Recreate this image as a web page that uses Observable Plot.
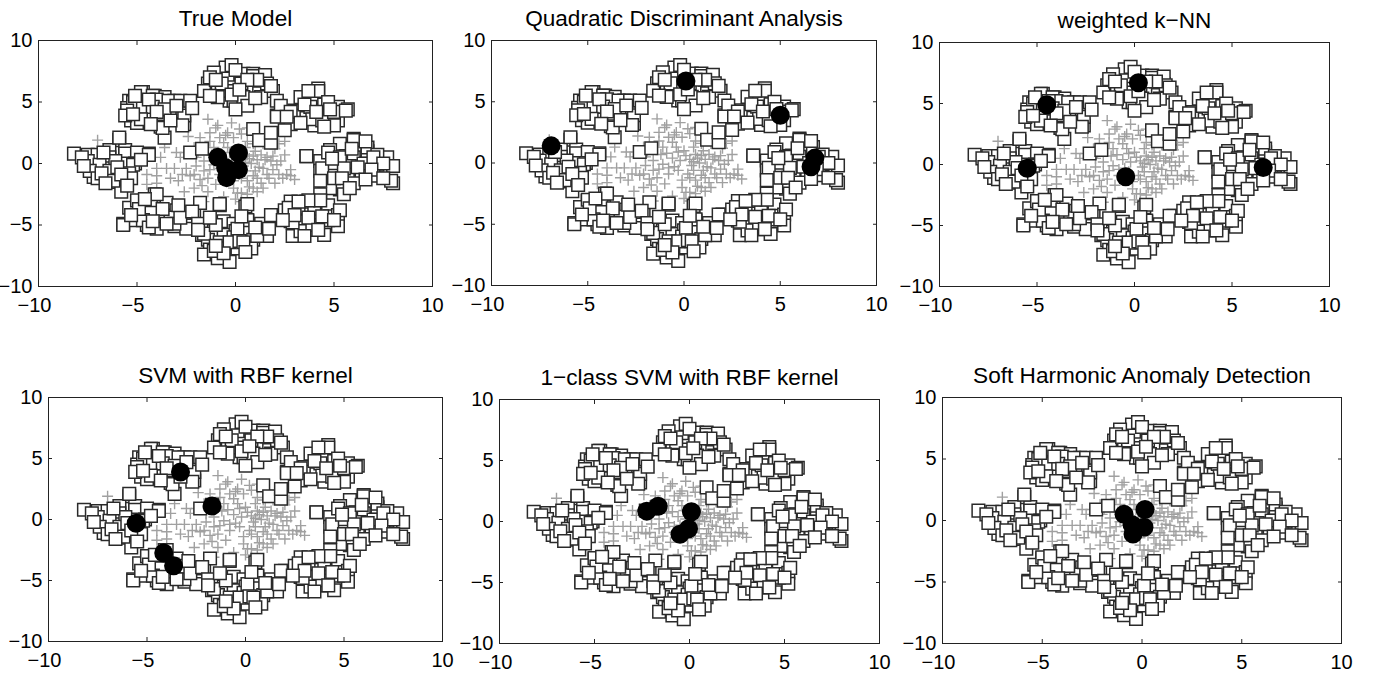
<!DOCTYPE html>
<html><head><meta charset="utf-8">
<script src="https://cdn.jsdelivr.net/npm/d3@7"></script>
<script src="https://cdn.jsdelivr.net/npm/@observablehq/plot@0.6"></script>
<style>
body{margin:0;background:#fff;}
#wrap{position:relative;width:1373px;height:677px;overflow:hidden;background:#fff;}
.panel{position:absolute;}
.panel svg{overflow:visible;}
</style>
</head><body><div id="wrap"></div>
<script>
// ---- data ----
const panelTitles = ["True Model","Quadratic Discriminant Analysis","weighted k\u2212NN",
  "SVM with RBF kernel","1\u2212class SVM with RBF kernel","Soft Harmonic Anomaly Detection"];
const tickValues = [-10,-5,0,5,10];
const innerTicks = [-5,0,5];

const squaresTop = [[-0.5,7.8],[-1.1,7.4],[-0.4,6.9],[0.3,7.1],[-1.4,6.5],[-1.1,5.9],[-0.6,5.9],[-0.1,6.2],[0.6,6.2],[0.3,5.3],[-0.3,5.1],[0.4,7.3],[0.9,7.3],[1.5,6.6],[0.8,5.9],[1.4,6.3],[1.2,5.7],[1.9,5.9],[0.9,7.1],[1.5,7.2],[-0.9,6.1],[-0.3,5.9],[0.3,6.5],[1.6,6.5],[-1.6,5.9],[-0.9,5.4],[-0.1,5.1],[0.4,5.4],[1.3,5.4],[0.6,4.7],[0.0,4.4],[2.1,5.1],[-0.2,8.0],[0.0,7.6],[-1.3,7.0],[1.1,6.8],[-0.7,6.5],[-1.0,6.8],[0.6,6.8],[-0.2,5.6],[1.0,5.3],[-1.3,5.5],[0.2,6.0],[1.8,6.3]];
const squaresTopLeft = [[-4.7,5.8],[-4.1,5.5],[-3.6,5.4],[-3.1,5.1],[-2.4,5.0],[-5.4,5.1],[-5.0,4.9],[-4.4,4.7],[-3.8,4.6],[-3.2,4.3],[-2.7,4.2],[-5.5,4.5],[-4.9,4.2],[-4.7,3.4],[-3.7,3.9],[-3.8,3.0],[-2.6,3.2],[-3.6,2.1],[-5.3,3.5],[-5.9,1.9],[-4.3,3.9],[-5.0,3.3],[-4.8,5.8],[-4.2,5.5],[-5.2,5.0],[-4.0,5.2],[-3.4,5.1],[-2.8,5.1],[-2.3,5.1],[-5.5,4.3],[-4.7,4.6],[-4.2,4.6],[-3.6,4.4],[-2.6,3.9],[-5.6,3.9],[-4.8,3.6],[-3.7,2.9],[-2.7,3.1],[-4.4,5.2],[-3.0,4.7],[-4.0,4.2],[-5.2,4.0],[-3.3,3.5],[-4.3,3.2],[-2.2,4.5],[-5.1,5.5]];
const squaresLeft = [[-8.2,0.8],[-7.5,0.7],[-6.4,1.1],[-5.6,1.1],[-5.2,0.2],[-4.4,0.8],[-6.9,0.2],[-6.4,0.5],[-5.6,0.8],[-5.0,0.9],[-7.0,-0.3],[-6.4,-0.4],[-5.5,0.0],[-5.1,0.0],[-7.2,-1.1],[-6.3,-1.5],[-5.5,-1.2],[-5.8,-2.3],[-5.9,2.1],[-7.0,0.7],[-7.5,0.2],[-6.9,-0.1],[-6.1,0.2],[-5.2,-0.1],[-7.4,-0.6],[-6.4,-0.6],[-5.4,-0.8],[-7.0,-1.2],[-6.2,-1.4],[-5.3,-1.2],[-7.8,0.5],[-4.4,0.7],[-2.3,0.9],[-1.7,1.2],[-6.7,0.9],[-6.0,-0.3],[-6.8,-0.8],[-5.8,-0.9],[-6.6,-1.6],[-5.5,-1.8],[-7.7,-0.2],[-4.8,0.3]];
const squaresTopRight = [[4.2,6.1],[3.3,5.4],[3.9,5.4],[4.5,4.8],[5.2,4.6],[5.7,4.4],[3.0,4.3],[2.1,3.9],[3.1,3.9],[3.6,3.7],[4.6,3.7],[5.2,3.5],[4.0,3.1],[5.0,3.1],[2.8,3.2],[2.3,4.7],[2.8,4.2],[4.2,5.9],[4.7,5.0],[3.8,4.6],[3.9,3.6],[4.4,3.5],[5.0,4.2],[5.6,4.3],[0.9,2.8],[1.2,1.9],[1.8,1.7],[2.5,2.7],[1.8,2.5],[2.1,3.8],[3.5,4.8],[4.1,4.2],[3.3,3.3],[4.8,4.4],[2.6,3.8],[4.5,3.0],[3.7,5.9]];
const squaresRight = [[6.0,2.0],[5.3,1.6],[6.3,1.1],[6.7,1.0],[5.6,0.6],[6.0,0.5],[7.1,0.5],[7.7,0.5],[3.6,0.6],[4.3,0.2],[5.0,-0.2],[5.8,-0.2],[6.4,-0.5],[7.2,-0.1],[8.0,-0.2],[4.3,-0.6],[5.0,-1.0],[5.7,-0.9],[6.4,-0.9],[7.0,-1.0],[4.5,-1.4],[5.2,-1.6],[6.0,-1.6],[8.0,-1.6],[5.3,-2.1],[4.8,-2.0],[5.5,-2.5],[4.8,1.1],[6.7,1.3],[7.2,0.7],[6.5,0.0],[4.7,0.9],[5.3,0.5],[7.0,0.5],[7.9,-1.4],[4.4,-0.4],[5.0,-1.2],[5.5,-0.4],[4.3,-1.4],[6.0,1.9],[6.6,1.8],[5.9,1.2],[7.5,0.0],[6.9,-0.5],[6.2,-0.3],[5.4,-1.2],[5.8,-2.0],[7.5,-1.2],[4.9,0.4],[6.6,-1.3]];
const squaresBottomLeft = [[-4.1,-2.5],[-5.0,-3.1],[-4.3,-3.2],[-3.5,-3.2],[-3.0,-3.8],[-5.4,-3.6],[-4.8,-4.2],[-3.8,-4.4],[-4.4,-4.2],[-3.3,-4.4],[-2.5,-4.7],[-2.1,-4.0],[-5.7,-4.9],[-5.1,-4.6],[-4.5,-5.0],[-4.0,-5.3],[-3.1,-5.1],[-2.5,-5.3],[-1.8,-3.2],[-4.0,-2.5],[-4.3,-4.0],[-3.1,-4.9],[-5.7,-5.0],[-4.7,-4.6],[-2.6,-4.0],[-4.4,-5.2],[-5.0,-3.0],[-3.7,-3.7],[-4.9,-3.7],[-3.5,-4.9],[-2.8,-4.4],[-5.3,-4.2],[-4.6,-2.9],[-2.9,-3.4],[-4.2,-4.7]];
const squaresBottom = [[-0.8,-3.4],[0.5,-3.5],[-0.6,-4.7],[-0.1,-4.9],[0.6,-4.7],[1.3,-4.9],[-1.7,-5.8],[-1.1,-5.5],[-0.6,-5.8],[0.0,-5.5],[0.7,-5.5],[1.4,-5.8],[-1.4,-6.2],[-0.8,-6.4],[-0.1,-6.4],[0.9,-6.2],[1.6,-5.9],[-1.3,-7.0],[-0.6,-6.9],[0.1,-6.9],[0.8,-6.9],[-0.9,-7.7],[-0.3,-8.0],[-1.6,-7.4],[2.0,-4.2],[-2.2,-3.9],[-1.6,-5.7],[-1.9,-4.9],[-0.1,-6.0],[-0.3,-6.4],[-1.1,-7.1],[-0.6,-7.3],[0.6,-4.6],[0.1,-5.3],[1.1,-5.9],[0.2,-6.3],[-0.8,-3.3],[0.6,-3.3],[-1.0,-5.0],[0.3,-4.3],[1.0,-5.2],[-1.9,-5.4],[0.4,-6.4],[-1.0,-6.7],[0.5,-7.2],[-1.3,-4.4],[1.7,-5.3]];
const squaresBottomRight = [[2.8,-3.1],[3.6,-3.1],[4.3,-2.5],[4.7,-3.4],[2.5,-3.8],[3.2,-3.6],[4.0,-4.0],[4.8,-4.3],[5.2,-4.2],[2.8,-4.7],[3.4,-4.7],[4.1,-4.7],[4.7,-4.9],[5.2,-5.1],[2.9,-5.9],[3.9,-5.4],[4.5,-5.8],[3.3,-5.5],[1.8,-4.2],[4.3,-3.0],[3.7,-3.0],[2.7,-3.6],[2.9,-4.8],[3.9,-5.0],[4.7,-4.6],[5.3,-3.8],[3.6,0.6],[3.0,-4.2],[3.7,-4.4],[4.4,-4.3],[2.4,-4.6],[3.5,-5.9],[4.2,-5.4],[5.0,-4.6],[3.2,-3.1]];
const pluses = [[-1.4,3.6],[-0.9,3.1],[-0.4,2.5],[-1.8,2.1],[-1.3,1.8],[-0.8,2.1],[-0.1,2.1],[0.3,2.4],[0.6,1.8],[1.1,2.4],[1.8,2.5],[2.5,1.8],[-2.1,1.3],[-2.5,0.9],[-2.8,0.5],[-2.5,-0.4],[-2.1,-0.9],[-1.6,-0.6],[-1.1,-0.1],[-0.8,-0.9],[-0.1,-1.4],[0.6,-1.4],[1.1,-1.2],[1.4,-0.4],[1.8,0.2],[2.1,-0.1],[2.6,-0.9],[2.0,-1.6],[2.5,0.7],[0.9,0.6],[1.3,0.7],[1.6,0.5],[0.6,0.7],[-1.6,0.2],[-4.5,-1.7],[-4.0,-1.6],[-2.6,-2.3],[-2.1,-2.0],[-1.4,-2.3],[-1.0,-1.7],[-0.1,-2.0],[0.3,-2.4],[0.6,-2.5],[0.9,-2.0],[0.3,-3.1],[-1.6,-3.1],[-2.7,-0.9],[-3.1,-0.4],[-3.5,-0.4],[-4.0,-0.4],[-3.6,1.3],[-4.5,-0.9],[-7.0,1.9],[-3.8,0.5],[-2.0,0.5],[-1.1,1.3],[-0.4,1.3],[1.4,-2.0],[1.6,-0.9],[2.2,-0.9],[3.0,-1.3],[-1.3,2.5],[0.2,2.8],[0.9,1.6],[0.3,0.3],[0.8,0.0],[1.2,-0.3],[0.5,-0.6],[-0.3,0.9],[1.0,1.0],[0.2,-0.9],[-1.3,-0.5],[-2.0,-0.2],[1.9,-0.5],[2.3,0.2],[-0.6,-2.7],[0.0,-2.9],[1.1,-2.3],[-1.8,-1.3],[2.8,-0.5],[-2.4,2.2],[-0.2,3.3],[-1.0,2.9],[0.6,2.9],[1.4,1.6],[2.0,1.2],[-0.5,-0.3],[0.7,0.4],[1.5,0.3],[-3.0,0.9],[-4.0,-1.0],[-2.9,-1.4],[0.0,1.0],[-0.6,0.4],[0.4,-0.2],[1.0,-0.6],[-1.2,0.7],[-0.3,-0.6],[0.9,-1.0],[2.4,-1.2],[-1.4,-1.2],[-0.6,1.7],[0.5,1.3],[1.7,-1.2],[-5.6,1.5],[0.1,0.6],[0.5,0.1],[1.1,0.3],[-0.2,0.2],[-0.8,-0.4],[0.3,-1.2],[1.3,-1.6],[-1.9,0.9],[-2.3,-1.0],[-0.9,0.8],[1.9,0.6],[-1.7,-1.8],[0.7,-1.9],[2.2,1.6],[-0.5,2.3],[-3.3,-1.2],[0.1,-2.4],[2.8,-1.0]];

// detected anomalies (black circles) per method
const trueModelPts = [[-0.9,0.5],[0.15,0.85],[0.15,-0.5],[-0.45,-1.15],[-0.5,-0.35]];
const qdaPts = [[-6.9,1.4],[0.1,6.7],[5.0,3.9],[6.8,0.4],[6.6,-0.3]];
const knnPts = [[-4.5,4.9],[0.2,6.7],[-5.5,-0.3],[-0.45,-1.0],[6.6,-0.25]];
const svmPts = [[-3.3,3.9],[-1.7,1.1],[-5.55,-0.3],[-4.15,-2.75],[-3.65,-3.8]];
const ocsvmPts = [[-2.25,0.85],[-1.65,1.25],[0.1,0.8],[-0.05,-0.6],[-0.5,-1.05]];
const shadPts = [[-0.9,0.5],[0.15,0.9],[0.1,-0.55],[-0.45,-1.1],[-0.5,-0.35]];

// ---- build ----
const toObj = a => a.map(([x,y]) => ({x,y}));
const squarePts = toObj([...squaresTop, ...squaresTopLeft, ...squaresLeft, ...squaresTopRight,
  ...squaresRight, ...squaresBottomLeft, ...squaresBottom, ...squaresBottomRight]);
const plusPts = toObj(pluses);
const anomalySets = [trueModelPts, qdaPts, knnPts, svmPts, ocsvmPts, shadPts];

// frame rectangles in page pixels (layout)
const frames = [
  {l:38, r:432, t:40, b:286},
  {l:491, r:876, t:40, b:285},
  {l:939, r:1329, t:42, b:286},
  {l:48, r:442, t:397, b:641},
  {l:499, r:879, t:399, b:643},
  {l:942, r:1341, t:397, b:643}
];

const plusSym = {draw(ctx, size){ const h = Math.sqrt(size/Math.PI);
  ctx.moveTo(-h,0); ctx.lineTo(h,0); ctx.moveTo(0,-h); ctx.lineTo(0,h);} };
const squareSym = {draw(ctx, size){ const h = Math.sqrt(size/Math.PI);
  ctx.moveTo(-h,-h); ctx.lineTo(h,-h); ctx.lineTo(h,h); ctx.lineTo(-h,h); ctx.closePath();} };

const fmt = d => d < 0 ? "\u2212" + Math.abs(d) : String(d);
const FONT = "'Liberation Sans', Arial, Helvetica, sans-serif";
const mL = 60, mR = 30, mT = 50, mB = 45;
const wrap = document.getElementById("wrap");

frames.forEach((f, i) => {
  const w = (f.r - f.l) + mL + mR;
  const h = (f.b - f.t) + mT + mB;
  const chart = Plot.plot({
    width: w, height: h,
    marginLeft: mL, marginRight: mR, marginTop: mT, marginBottom: mB,
    style: {background: "transparent", fontFamily: FONT, color: "#000", overflow: "visible"},
    x: {domain: [-10, 10], axis: null},
    y: {domain: [-10, 10], axis: null},
    marks: [
      Plot.dot(plusPts, {x: "x", y: "y", symbol: plusSym, r: 5.5, fill: "none", stroke: "#a0a0a0", strokeWidth: 1.4}),
      Plot.dot(squarePts, {x: "x", y: "y", symbol: squareSym, r: 6.3, fill: "white", stroke: "#2a2a2a", strokeWidth: 1.5}),
      Plot.dot(toObj(anomalySets[i]), {x: "x", y: "y", r: 9.5, fill: "black"}),
      Plot.frame({stroke: "#222", strokeWidth: 1}),
      Plot.axisX(innerTicks, {anchor: "bottom", tickSize: 4, dy: -4, fill: "none", stroke: "#222", label: null}),
      Plot.axisX(innerTicks, {anchor: "top", tickSize: 4, dy: 4, fill: "none", stroke: "#222", label: null}),
      Plot.axisY(innerTicks, {anchor: "left", tickSize: 4, dx: 4, fill: "none", stroke: "#222", label: null}),
      Plot.axisY(innerTicks, {anchor: "right", tickSize: 4, dx: -4, fill: "none", stroke: "#222", label: null}),
      Plot.axisX(tickValues.filter(d => d < 0), {anchor: "bottom", tickSize: 0, tickPadding: 11, tickFormat: fmt, fontSize: 20, dx: -4, label: null, fill: "#000"}),
      Plot.axisX(tickValues.filter(d => d >= 0), {anchor: "bottom", tickSize: 0, tickPadding: 11, tickFormat: fmt, fontSize: 20, label: null, fill: "#000"}),
      Plot.axisY(tickValues, {anchor: "left", tickSize: 0, tickPadding: 6, tickFormat: fmt, fontSize: 20, label: null, fill: "#000"}),
      Plot.text([panelTitles[i]], {text: d => d, frameAnchor: "top", lineAnchor: "bottom", dy: -15, fontSize: 22.6, fill: "#000"})
    ]
  });
  const div = document.createElement("div");
  div.className = "panel";
  div.style.left = (f.l - mL) + "px";
  div.style.top = (f.t - mT) + "px";
  div.appendChild(chart);
  wrap.appendChild(div);
});
</script>
</body></html>
